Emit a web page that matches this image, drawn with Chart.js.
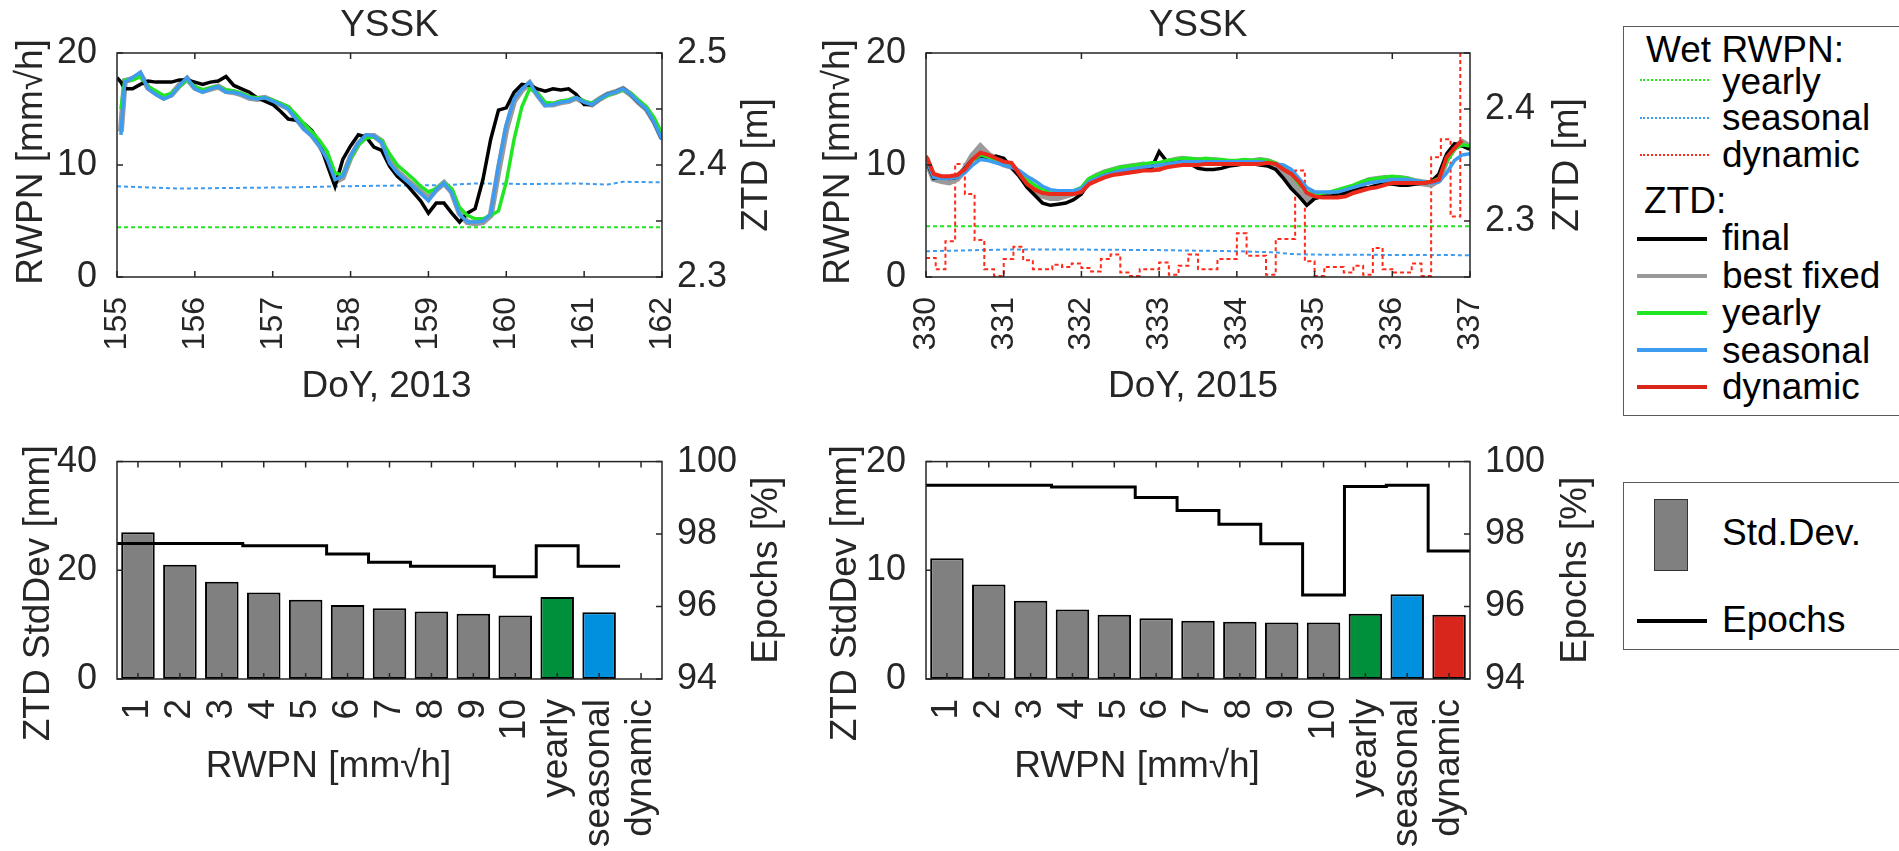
<!DOCTYPE html>
<html lang="en">
<head>
<meta charset="utf-8">
<title>YSSK – RWPN and ZTD</title>
<script src="https://cdn.jsdelivr.net/npm/chart.js@4.4.1/dist/chart.umd.min.js"></script>
<style>
  html, body { margin: 0; padding: 0; background: #fff; }
  body { position: relative; width: 1899px; height: 851px; overflow: hidden;
         font-family: "Liberation Sans", Arial, Helvetica, sans-serif; }
  canvas { position: absolute; }
  .legend { position: absolute; box-sizing: border-box; border: 1.5px solid #5a5a5a; width: 320px; background: #fff; }
  .legend span { position: absolute; font-size: 37px; line-height: 40px; height: 40px; white-space: nowrap; color: #000; }
  .legend i { position: absolute; display: block; }
</style>
</head>
<body>
<canvas id="ztd2013" width="800" height="420" style="left:0;top:0"></canvas>
<canvas id="ztd2015" width="800" height="420" style="left:800px;top:0"></canvas>
<canvas id="std2013" width="800" height="431" style="left:0;top:420px"></canvas>
<canvas id="std2015" width="800" height="431" style="left:800px;top:420px"></canvas>

<div class="legend" style="left:1623px;top:26px;height:390px">
  <span style="left:22px;top:3px">Wet RWPN:</span>
  <i style="left:16px;top:52px;width:69px;border-top:2px dotted #22e622"></i>
  <span style="left:98px;top:35px">yearly</span>
  <i style="left:16px;top:90px;width:69px;border-top:2px dotted #3d9bf0"></i>
  <span style="left:98px;top:71px">seasonal</span>
  <i style="left:16px;top:127px;width:69px;border-top:2px dotted #ff2a1a"></i>
  <span style="left:98px;top:108px">dynamic</span>
  <span style="left:20px;top:154px">ZTD:</span>
  <i style="left:13px;top:210px;width:70px;height:4px;background:#000"></i>
  <span style="left:98px;top:191px">final</span>
  <i style="left:13px;top:247px;width:70px;height:4px;background:#999"></i>
  <span style="left:98px;top:229px">best fixed</span>
  <i style="left:13px;top:284px;width:70px;height:4px;background:#22e622"></i>
  <span style="left:98px;top:266px">yearly</span>
  <i style="left:13px;top:321px;width:70px;height:4px;background:#3d9bf0"></i>
  <span style="left:98px;top:304px">seasonal</span>
  <i style="left:13px;top:358px;width:70px;height:4px;background:#d9261c"></i>
  <span style="left:98px;top:340px">dynamic</span>
</div>

<div class="legend" style="left:1623px;top:482px;height:168px">
  <i style="left:30px;top:16px;width:34px;height:72px;box-sizing:border-box;background:#808080;border:1.5px solid #333"></i>
  <span style="left:98px;top:30px">Std.Dev.</span>
  <i style="left:13px;top:136px;width:70px;height:4px;background:#000"></i>
  <span style="left:98px;top:117px">Epochs</span>
</div>

<script>
const AXIS_COLOR = '#262626';
const TICK_LEN = 6;
Chart.defaults.font.family = '"Liberation Sans", Arial, Helvetica, sans-serif';
Chart.defaults.color = AXIS_COLOR;

const COLORS = {
  final: '#000000',
  bestFixed: '#9a9a9a',
  yearly: '#22e622',
  seasonal: '#3d9bf0',
  dynamic: '#ec2a1c',
  wetDynamic: '#ff2a1a',
  barGray: '#808080',
  barYearly: '#008f3b',
  barSeasonal: '#0090dd',
  barDynamic: '#d9261c'
};

// ---- DoY 155-162, 2013 ----
const days2013 = [155, 155.05, 155.1, 155.2, 155.3, 155.4, 155.5, 155.6, 155.7, 155.8, 155.9,
  156, 156.1, 156.2, 156.3, 156.4, 156.5, 156.6, 156.7, 156.8, 156.9,
  157, 157.1, 157.2, 157.3, 157.4, 157.5, 157.6, 157.7, 157.8, 157.9,
  158, 158.1, 158.2, 158.3, 158.4, 158.5, 158.6, 158.7, 158.8, 158.9,
  159, 159.1, 159.2, 159.3, 159.4, 159.5, 159.6, 159.7, 159.8, 159.9,
  160, 160.1, 160.2, 160.3, 160.4, 160.5, 160.6, 160.7, 160.8, 160.9,
  161, 161.1, 161.2, 161.3, 161.4, 161.5, 161.6, 161.7, 161.8, 161.9, 162];

// ZTD [m]
const ztdFinal2013 = [2.478, 2.474, 2.468, 2.468, 2.472, 2.475, 2.474, 2.474, 2.474, 2.476,
  2.476, 2.474, 2.472, 2.474, 2.475, 2.479, 2.471, 2.468, 2.465, 2.460,
  2.457, 2.454, 2.448, 2.441, 2.440, 2.437, 2.431, 2.420, 2.400, 2.381,
  2.405, 2.417, 2.427, 2.425, 2.416, 2.413, 2.399, 2.390, 2.384, 2.376,
  2.368, 2.357, 2.366, 2.366, 2.357, 2.349, 2.357, 2.361, 2.387, 2.423,
  2.449, 2.451, 2.465, 2.472, 2.471, 2.468, 2.466, 2.468, 2.467, 2.468,
  2.463, 2.454, 2.454, 2.459, 2.463, 2.465, 2.468, 2.463, 2.456, 2.450,
  2.438, 2.423];
const ztdBest2013 = [null, 2.430, 2.475, 2.477, 2.481, 2.469, 2.464, 2.460, 2.463, 2.471,
  2.477, 2.469, 2.466, 2.468, 2.470, 2.466, 2.465, 2.463, 2.460, 2.459,
  2.460, 2.457, 2.454, 2.451, 2.442, 2.433, 2.427, 2.418, 2.406, 2.385,
  2.389, 2.407, 2.419, 2.426, 2.426, 2.421, 2.404, 2.394, 2.388, 2.382,
  2.376, 2.370, 2.378, 2.384, 2.376, 2.357, 2.349, 2.348, 2.349, 2.355,
  2.395, 2.432, 2.457, 2.467, 2.473, 2.463, 2.454, 2.454, 2.456, 2.457,
  2.460, 2.456, 2.454, 2.459, 2.463, 2.465, 2.468, 2.463, 2.456, 2.450,
  2.439, 2.424];
const ztdYearly2013 = [null, 2.450, 2.476, 2.476, 2.479, 2.470, 2.466, 2.462, 2.464, 2.470,
  2.476, 2.470, 2.467, 2.469, 2.470, 2.467, 2.466, 2.464, 2.461, 2.460,
  2.460, 2.458, 2.455, 2.452, 2.445, 2.437, 2.430, 2.422, 2.412, 2.393,
  2.391, 2.406, 2.418, 2.424, 2.425, 2.422, 2.410, 2.400, 2.394, 2.388,
  2.381, 2.376, 2.379, 2.384, 2.379, 2.362, 2.355, 2.352, 2.352, 2.355,
  2.359, 2.385, 2.423, 2.452, 2.468, 2.464, 2.456, 2.455, 2.457, 2.458,
  2.460, 2.457, 2.455, 2.459, 2.462, 2.465, 2.467, 2.464, 2.458, 2.452,
  2.442, 2.428];
const ztdSeasonal2013 = [null, 2.427, 2.474, 2.478, 2.483, 2.468, 2.463, 2.459, 2.462, 2.471,
  2.478, 2.468, 2.465, 2.468, 2.470, 2.465, 2.465, 2.463, 2.460, 2.459,
  2.460, 2.457, 2.454, 2.450, 2.441, 2.432, 2.426, 2.417, 2.405, 2.387,
  2.390, 2.408, 2.420, 2.427, 2.426, 2.420, 2.402, 2.393, 2.387, 2.381,
  2.375, 2.368, 2.378, 2.384, 2.375, 2.356, 2.349, 2.349, 2.350, 2.356,
  2.400, 2.436, 2.459, 2.468, 2.474, 2.462, 2.453, 2.454, 2.456, 2.457,
  2.460, 2.456, 2.454, 2.459, 2.463, 2.465, 2.468, 2.463, 2.456, 2.450,
  2.438, 2.423];

// wet RWPN [mm/sqrt(h)]
const wetDays2013 = [155, 155.4, 155.8, 156.5, 157.2, 157.9, 158.4, 159.2, 159.6, 160.3, 160.9, 161.3, 161.5, 162];
const wetYearly2013 = [4.44, 4.44, 4.44, 4.44, 4.44, 4.44, 4.44, 4.44, 4.44, 4.44, 4.44, 4.44, 4.44, 4.44];
const wetSeasonal2013 = [8.1, 8.0, 7.9, 7.95, 8.0, 8.1, 8.15, 8.2, 8.35, 8.3, 8.35, 8.25, 8.5, 8.45];

// ---- DoY 330-337, 2015 ----
const days2015 = [330, 330.1, 330.2, 330.3, 330.4, 330.5, 330.6, 330.7, 330.8, 330.9,
  331, 331.1, 331.2, 331.3, 331.4, 331.5, 331.6, 331.7, 331.8, 331.9,
  332, 332.1, 332.2, 332.3, 332.4, 332.5, 332.6, 332.7, 332.8, 332.9,
  333, 333.1, 333.2, 333.3, 333.4, 333.5, 333.6, 333.7, 333.8, 333.9,
  334, 334.1, 334.2, 334.3, 334.4, 334.5, 334.6, 334.7, 334.8, 334.9,
  335, 335.1, 335.2, 335.3, 335.4, 335.5, 335.6, 335.7, 335.8, 335.9,
  336, 336.1, 336.2, 336.3, 336.4, 336.5, 336.6, 336.7, 336.8, 336.9, 337];

const ztdFinal2015 = [2.354, 2.338, 2.339, 2.338, 2.339, 2.347, 2.355, 2.357, 2.355, 2.358,
  2.356, 2.348, 2.340, 2.330, 2.323, 2.316, 2.314, 2.315, 2.316, 2.319,
  2.324, 2.336, 2.340, 2.343, 2.344, 2.343, 2.343, 2.345, 2.346, 2.347,
  2.362, 2.353, 2.354, 2.354, 2.351, 2.347, 2.346, 2.346, 2.347, 2.349,
  2.350, 2.351, 2.351, 2.350, 2.349, 2.346, 2.338, 2.329, 2.322, 2.314,
  2.320, 2.322, 2.322, 2.324, 2.325, 2.327, 2.329, 2.330, 2.332, 2.333,
  2.333, 2.332, 2.332, 2.333, 2.334, 2.335, 2.342, 2.360, 2.369, 2.367, 2.364];
const ztdBest2015 = [2.356, 2.338, 2.336, 2.335, 2.338, 2.346, 2.358, 2.366, 2.359, 2.355,
  2.351, 2.349, 2.342, 2.334, 2.328, 2.323, 2.321, 2.321, 2.323, 2.325,
  2.327, 2.336, 2.340, 2.343, 2.345, 2.347, 2.348, 2.349, 2.350, 2.348,
  2.347, 2.352, 2.354, 2.355, 2.354, 2.354, 2.353, 2.354, 2.353, 2.352,
  2.352, 2.353, 2.353, 2.354, 2.353, 2.350, 2.345, 2.336, 2.326, 2.320,
  2.322, 2.323, 2.324, 2.326, 2.328, 2.330, 2.333, 2.336, 2.337, 2.338,
  2.338, 2.338, 2.337, 2.335, 2.334, 2.333, 2.337, 2.356, 2.366, 2.370, 2.366];
const ztdYearly2015 = [2.358, 2.340, 2.339, 2.339, 2.341, 2.346, 2.354, 2.359, 2.357, 2.354,
  2.352, 2.350, 2.344, 2.337, 2.332, 2.328, 2.326, 2.325, 2.326, 2.327,
  2.330, 2.338, 2.341, 2.344, 2.346, 2.348, 2.349, 2.350, 2.351, 2.352,
  2.352, 2.354, 2.355, 2.356, 2.356, 2.355, 2.356, 2.355, 2.355, 2.354,
  2.354, 2.355, 2.354, 2.355, 2.354, 2.352, 2.348, 2.342, 2.333, 2.326,
  2.324, 2.325, 2.326, 2.328, 2.330, 2.332, 2.335, 2.337, 2.338, 2.339,
  2.340, 2.339, 2.338, 2.336, 2.335, 2.335, 2.338, 2.353, 2.364, 2.368, 2.367];
const ztdSeasonal2015 = [2.355, 2.339, 2.338, 2.338, 2.339, 2.343, 2.350, 2.355, 2.354, 2.352,
  2.350, 2.348, 2.345, 2.340, 2.336, 2.331, 2.328, 2.327, 2.327, 2.327,
  2.329, 2.335, 2.338, 2.341, 2.343, 2.345, 2.346, 2.347, 2.348, 2.349,
  2.350, 2.351, 2.352, 2.353, 2.353, 2.353, 2.353, 2.353, 2.353, 2.353,
  2.353, 2.353, 2.353, 2.353, 2.352, 2.351, 2.350, 2.346, 2.338, 2.330,
  2.326, 2.326, 2.326, 2.326, 2.328, 2.330, 2.332, 2.334, 2.335, 2.336,
  2.337, 2.337, 2.337, 2.336, 2.335, 2.334, 2.335, 2.343, 2.354, 2.359, 2.360];
const ztdDynamic2015 = [2.358, 2.342, 2.340, 2.340, 2.341, 2.346, 2.355, 2.361, 2.359, 2.356,
  2.353, 2.352, 2.342, 2.333, 2.328, 2.325, 2.324, 2.324, 2.324, 2.324,
  2.326, 2.333, 2.336, 2.339, 2.341, 2.342, 2.343, 2.344, 2.345, 2.345,
  2.346, 2.348, 2.349, 2.350, 2.350, 2.350, 2.351, 2.351, 2.351, 2.351,
  2.351, 2.351, 2.351, 2.351, 2.352, 2.351, 2.346, 2.342, 2.335, 2.325,
  2.322, 2.321, 2.321, 2.321, 2.322, 2.325, 2.327, 2.329, 2.330, 2.332,
  2.334, 2.334, 2.334, 2.334, 2.334, 2.335, 2.337, 2.357, 2.365, 2.372, null];

const wetDays2015 = [330, 331, 332, 333, 334, 334.5, 334.7, 335, 336, 337];
const wetYearly2015 = [4.53, 4.53, 4.53, 4.53, 4.53, 4.53, 4.53, 4.53, 4.53, 4.53];
const wetSeasonal2015 = [2.3, 2.45, 2.45, 2.4, 2.3, 2.2, 2.05, 2.0, 1.97, 1.95];

// dynamic wet RWPN, one value per 3-hour batch (last one repeated to close the step)
const stepDays2015 = [330, 330.125, 330.25, 330.375, 330.5, 330.625, 330.75, 330.875,
  331, 331.125, 331.25, 331.375, 331.5, 331.625, 331.75, 331.875,
  332, 332.125, 332.25, 332.375, 332.5, 332.625, 332.75, 332.875,
  333, 333.125, 333.25, 333.375, 333.5, 333.625, 333.75, 333.875,
  334, 334.125, 334.25, 334.375, 334.5, 334.625, 334.75, 334.875,
  335, 335.125, 335.25, 335.375, 335.5, 335.625, 335.75, 335.875,
  336, 336.125, 336.25, 336.375, 336.5, 336.625, 336.75, 336.875, 337];
const wetDynamic2015 = [1.7, 0.7, 3.2, 10.1, 7.4, 3.3, 0.7, 0.1,
  1.6, 2.7, 1.5, 0.7, 0.7, 1.1, 0.9, 1.2,
  0.8, 0.5, 1.6, 2.0, 0.4, 0.1, 0.7, 0.7,
  1.3, 0.2, 1.0, 2.0, 0.7, 0.7, 1.6, 1.6,
  3.9, 1.9, 1.9, 0.2, 3.4, 3.4, 9.5, 1.4,
  0.1, 0.9, 0.9, 0.4, 1.0, 0.2, 2.6, 0.7,
  0.4, 0.4, 1.2, 0.1, 10.7, 12.3, 5.4, 21, 21];

// ---- bar panels ----
const rwpnLabels = ['1', '2', '3', '4', '5', '6', '7', '8', '9', '10', 'yearly', 'seasonal', 'dynamic'];
const stdDev2013 = [27.0, 21.0, 17.9, 15.9, 14.6, 13.6, 13.0, 12.4, 12.0, 11.7, 15.1, 12.3, null];
const epochs2013 = [97.74, 97.74, 97.74, 97.68, 97.68, 97.45, 97.22, 97.11, 97.11, 96.82, 97.68, 97.11, null];
const stdDev2015 = [11.1, 8.7, 7.2, 6.4, 5.9, 5.6, 5.35, 5.27, 5.2, 5.2, 6.0, 7.8, 5.9];
const epochs2015 = [99.35, 99.35, 99.35, 99.30, 99.30, 99.01, 98.65, 98.27, 97.73, 96.32, 99.31, 99.35, 97.53];

const barColors = rwpnLabels.map(l =>
  l === 'yearly' ? COLORS.barYearly : l === 'seasonal' ? COLORS.barSeasonal :
  l === 'dynamic' ? COLORS.barDynamic : COLORS.barGray);

// box, inward tick marks, axis titles and heading (MATLAB-like frame)
function makeFrame(cfg) {
  return {
    id: 'frame',
    afterDraw(chart) {
      const { ctx, chartArea: a, scales } = chart;
      ctx.save();
      ctx.strokeStyle = AXIS_COLOR;
      ctx.lineWidth = 1.5;
      ctx.beginPath();
      cfg.marks.forEach(m => {
        const s = scales[m.axis];
        s.ticks.forEach((t, i) => {
          if (m.even && t.value % 2 !== 0) return;
          const p = s.getPixelForTick(i);
          if (m.edge === 'bottom') { ctx.moveTo(p, a.bottom); ctx.lineTo(p, a.bottom - TICK_LEN); }
          if (m.edge === 'top') { ctx.moveTo(p, a.top); ctx.lineTo(p, a.top + TICK_LEN); }
          if (m.edge === 'left') { ctx.moveTo(a.left, p); ctx.lineTo(a.left + TICK_LEN, p); }
          if (m.edge === 'right') { ctx.moveTo(a.right, p); ctx.lineTo(a.right - TICK_LEN, p); }
        });
      });
      ctx.stroke();
      ctx.strokeRect(a.left, a.top, a.right - a.left, a.bottom - a.top);

      ctx.fillStyle = AXIS_COLOR;
      ctx.font = '37px "Liberation Sans", Arial, sans-serif';
      ctx.textAlign = 'center';
      ctx.textBaseline = 'middle';
      const cx = (a.left + a.right) / 2;
      const cy = (a.top + a.bottom) / 2;
      cfg.titles.forEach(t => {
        const shift = t.shift || 0;
        if (t.side === 'bottom') {
          ctx.fillText(t.text, cx + shift, a.bottom + t.gap);
          return;
        }
        const x = t.side === 'left' ? a.left - t.gap : a.right + t.gap;
        ctx.save();
        ctx.translate(x, cy + shift);
        ctx.rotate(-Math.PI / 2);
        ctx.fillText(t.text, 0, 0);
        ctx.restore();
      });
      if (cfg.heading) {
        ctx.fillText(cfg.heading, cx, cfg.headingY);
      }
      ctx.restore();
    }
  };
}

function line(xs, ys, color, width, order, axis, dash) {
  return {
    data: xs.map((x, i) => ({ x, y: ys[i] })),
    borderColor: color,
    borderWidth: width,
    borderDash: dash || [],
    pointRadius: 0,
    tension: 0,
    yAxisID: axis,
    order
  };
}

function stairs(vals) {
  const pts = [];
  let last = 0;
  vals.forEach((v, i) => {
    if (v === null) return;
    pts.push({ x: i - 0.5, y: v });
    last = i;
  });
  pts.push({ x: last + 0.5, y: vals[last] });
  return pts;
}

function yAxis(position, min, max, step, width, padding, onlyTenths) {
  return {
    position, min, max,
    grid: { display: false, drawTicks: false },
    border: { display: false },
    ticks: {
      stepSize: step,
      autoSkip: false,
      padding,
      font: { size: 36 },
      callback: v => {
        if (onlyTenths) {
          return Math.abs(Math.round(v * 10) - v * 10) < 1e-6 ? v.toFixed(1) : '';
        }
        return String(v);
      }
    },
    afterFit: s => { s.width = width; }
  };
}

function dayAxis(min, max, height) {
  return {
    type: 'linear', position: 'bottom', min, max,
    grid: { display: false, drawTicks: false },
    border: { display: false },
    ticks: { stepSize: 1, autoSkip: false, minRotation: 90, maxRotation: 90, padding: 20, font: { size: 32 } },
    afterFit: s => { s.height = height; }
  };
}

function categoryAxis(height) {
  return {
    type: 'category', offset: true,
    grid: { display: false, drawTicks: false },
    border: { display: false },
    ticks: { autoSkip: false, minRotation: 90, maxRotation: 90, padding: 20, font: { size: 37 } },
    afterFit: s => { s.height = height; }
  };
}

const baseOptions = {
  responsive: false,
  animation: false,
  events: [],
  plugins: { legend: { display: false }, tooltip: { enabled: false } }
};

const DOT = [4, 3];

// top left: 2013 ZTD time series
new Chart(document.getElementById('ztd2013'), {
  type: 'line',
  data: {
    datasets: [
      line(days2013, ztdSeasonal2013, COLORS.seasonal, 3.5, 1, 'y1'),
      line(days2013, ztdYearly2013, COLORS.yearly, 3.5, 2, 'y1'),
      line(days2013, ztdFinal2013, COLORS.final, 3.5, 3, 'y1'),
      line(days2013, ztdBest2013, COLORS.bestFixed, 6, 4, 'y1'),
      line(wetDays2013, wetSeasonal2013, COLORS.seasonal, 2, 5, 'y', DOT),
      line(wetDays2013, wetYearly2013, COLORS.yearly, 2, 6, 'y', DOT)
    ]
  },
  options: {
    ...baseOptions,
    layout: { padding: { top: 53 } },
    scales: {
      x: dayAxis(155, 162, 143),
      y: yAxis('left', 0, 20, 10, 117, 20, false),
      y1: yAxis('right', 2.3, 2.5, 0.05, 138, 15, true)
    }
  },
  plugins: [makeFrame({
    marks: [
      { axis: 'x', edge: 'bottom' }, { axis: 'x', edge: 'top', even: true },
      { axis: 'y', edge: 'left' }, { axis: 'y1', edge: 'right' }
    ],
    titles: [
      { text: 'RWPN [mm√h]', side: 'left', gap: 85, shift: -3 },
      { text: 'ZTD [m]', side: 'right', gap: 95 },
      { text: 'DoY, 2013', side: 'bottom', gap: 110, shift: -3 }
    ],
    heading: 'YSSK', headingY: 26
  })]
});

// top right: 2015 ZTD time series with dynamic noise
new Chart(document.getElementById('ztd2015'), {
  type: 'line',
  data: {
    datasets: [
      line(days2015, ztdDynamic2015, COLORS.dynamic, 4, 0, 'y1'),
      line(days2015, ztdSeasonal2015, COLORS.seasonal, 3.5, 1, 'y1'),
      line(days2015, ztdYearly2015, COLORS.yearly, 3.5, 2, 'y1'),
      line(days2015, ztdFinal2015, COLORS.final, 3.5, 3, 'y1'),
      line(days2015, ztdBest2015, COLORS.bestFixed, 7, 4, 'y1'),
      { ...line(stepDays2015, wetDynamic2015, COLORS.wetDynamic, 2, 5, 'y', DOT), stepped: true, clip: 0 },
      line(wetDays2015, wetSeasonal2015, COLORS.seasonal, 2, 6, 'y', DOT),
      line(wetDays2015, wetYearly2015, COLORS.yearly, 2, 7, 'y', DOT)
    ]
  },
  options: {
    ...baseOptions,
    layout: { padding: { top: 53 } },
    scales: {
      x: dayAxis(330, 337, 143),
      y: yAxis('left', 0, 20, 10, 126, 20, false),
      y1: yAxis('right', 2.25, 2.45, 0.05, 130, 15, true)
    }
  },
  plugins: [makeFrame({
    marks: [
      { axis: 'x', edge: 'bottom' }, { axis: 'x', edge: 'top', even: true },
      { axis: 'y', edge: 'left' }, { axis: 'y1', edge: 'right' }
    ],
    titles: [
      { text: 'RWPN [mm√h]', side: 'left', gap: 87, shift: -3 },
      { text: 'ZTD [m]', side: 'right', gap: 98 },
      { text: 'DoY, 2015', side: 'bottom', gap: 110, shift: -5 }
    ],
    heading: 'YSSK', headingY: 26
  })]
});

function barChart(id, stdDev, epochs, yMax, yStep, leftWidth, rightWidth, leftGap, rightGap) {
  return new Chart(document.getElementById(id), {
    type: 'bar',
    data: {
      labels: rwpnLabels,
      datasets: [
        {
          type: 'line',
          data: stairs(epochs),
          xAxisID: 'xs',
          yAxisID: 'y1',
          stepped: true,
          borderColor: COLORS.final,
          borderWidth: 3,
          pointRadius: 0,
          order: 0
        },
        {
          type: 'bar',
          data: stdDev,
          xAxisID: 'x',
          yAxisID: 'y',
          backgroundColor: barColors,
          borderColor: '#000',
          borderWidth: 2,
          borderSkipped: false,
          grouped: false,
          barPercentage: 0.8,
          categoryPercentage: 1,
          order: 1
        }
      ]
    },
    options: {
      ...baseOptions,
      layout: { padding: { top: 37 } },
      scales: {
        x: categoryAxis(172),
        // plain numeric axis over the same width, used for the stairs line
        xs: { type: 'linear', display: false, offset: false, grid: { offset: false },
              min: -0.5, max: rwpnLabels.length - 0.5 },
        y: yAxis('left', 0, yMax, yStep, leftWidth, 20, false),
        y1: yAxis('right', 94, 100, 2, rightWidth, 15, false)
      }
    },
    plugins: [makeFrame({
      marks: [
        { axis: 'x', edge: 'bottom' }, { axis: 'x', edge: 'top' },
        { axis: 'y', edge: 'left' }, { axis: 'y1', edge: 'right' }
      ],
      titles: [
        { text: 'ZTD StdDev [mm]', side: 'left', gap: leftGap, shift: 23 },
        { text: 'Epochs [%]', side: 'right', gap: rightGap },
        { text: 'RWPN [mm√h]', side: 'bottom', gap: 88, shift: -61 }
      ]
    })]
  });
}

barChart('std2013', stdDev2013, epochs2013, 40, 20, 117, 138, 78, 105);
barChart('std2015', stdDev2015, epochs2015, 20, 10, 126, 130, 80, 106);
</script>
</body>
</html>
